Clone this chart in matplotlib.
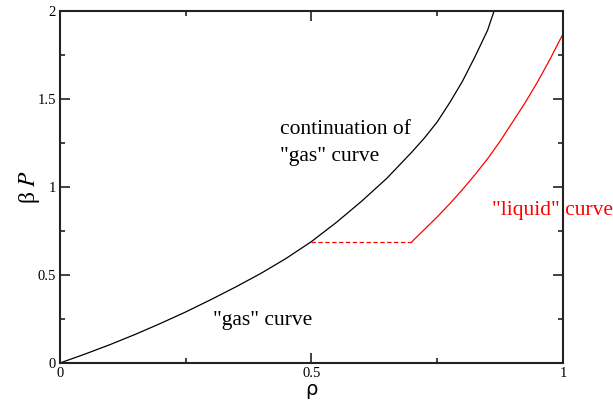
import matplotlib
matplotlib.use('Agg')
import matplotlib.pyplot as plt
from matplotlib.ticker import MultipleLocator

# --- Data ---
gas_rho = [0, 0.05, 0.1, 0.15, 0.2, 0.25, 0.3, 0.35, 0.4, 0.45, 0.5,
           0.55, 0.6, 0.65, 0.7, 0.725, 0.75, 0.775, 0.8, 0.825, 0.85, 0.863]
gas_bp = [0, 0.051, 0.105, 0.163, 0.225, 0.29, 0.36, 0.433, 0.51, 0.595, 0.69,
          0.80, 0.92, 1.05, 1.2, 1.28, 1.37, 1.48, 1.6, 1.74, 1.89, 2.0]

liq_rho = [0.7, 0.725, 0.75, 0.775, 0.8, 0.825, 0.85, 0.875, 0.9, 0.925, 0.95, 0.975, 1.0]
liq_bp = [0.69, 0.76, 0.83, 0.905, 0.985, 1.07, 1.16, 1.26, 1.37, 1.48, 1.6, 1.73, 1.87]

tie_rho = [0.5, 0.7]
tie_bp = [0.69, 0.69]

plt.rcParams['font.family'] = ['Liberation Serif', 'DejaVu Serif']
plt.rcParams['mathtext.fontset'] = 'stix'

fig = plt.figure(figsize=(6.13, 4.03), dpi=100)
ax = fig.add_axes([0.0979, 0.0993, 0.8205, 0.8734])

ax.plot(gas_rho, gas_bp, color='black', lw=0.9)
ax.plot(liq_rho, liq_bp, color='red', lw=0.9)
ax.plot(tie_rho, tie_bp, color='red', lw=0.9, ls=(0, (3.5, 2)))

ax.set_xlim(0, 1)
ax.set_ylim(0, 2)

ax.xaxis.set_major_locator(MultipleLocator(0.5))
ax.xaxis.set_minor_locator(MultipleLocator(0.25))
ax.yaxis.set_major_locator(MultipleLocator(0.5))
ax.yaxis.set_minor_locator(MultipleLocator(0.25))
ax.xaxis.set_major_formatter(plt.FuncFormatter(lambda v, p: f'{v:g}'))
ax.yaxis.set_major_formatter(plt.FuncFormatter(lambda v, p: f'{v:g}'))

ax.tick_params(which='both', direction='in', top=True, right=True, width=1.2, color='#222222')
ax.tick_params(which='major', length=7.5, labelsize=10.5, pad=3)
ax.tick_params(which='minor', length=3.5)
for s in ax.spines.values():
    s.set_linewidth(1.5)
    s.set_color('#222222')

ax.set_xlabel('ρ', fontsize=14, family='DejaVu Sans', labelpad=0)
ax.set_ylabel(r'β $\it{P}$', fontsize=17, labelpad=-3)

ax.text(0.437, 1.25, 'continuation of\n"gas" curve', fontsize=15.5, ha='left', va='center',
        linespacing=1.6)
ax.text(0.304, 0.243, '"gas" curve', fontsize=15.5, ha='left', va='center')
ax.text(0.859, 0.864, '"liquid" curve', fontsize=15.5, ha='left', va='center', color='red',
        clip_on=False)

fig.savefig('out.png', dpi=100)
